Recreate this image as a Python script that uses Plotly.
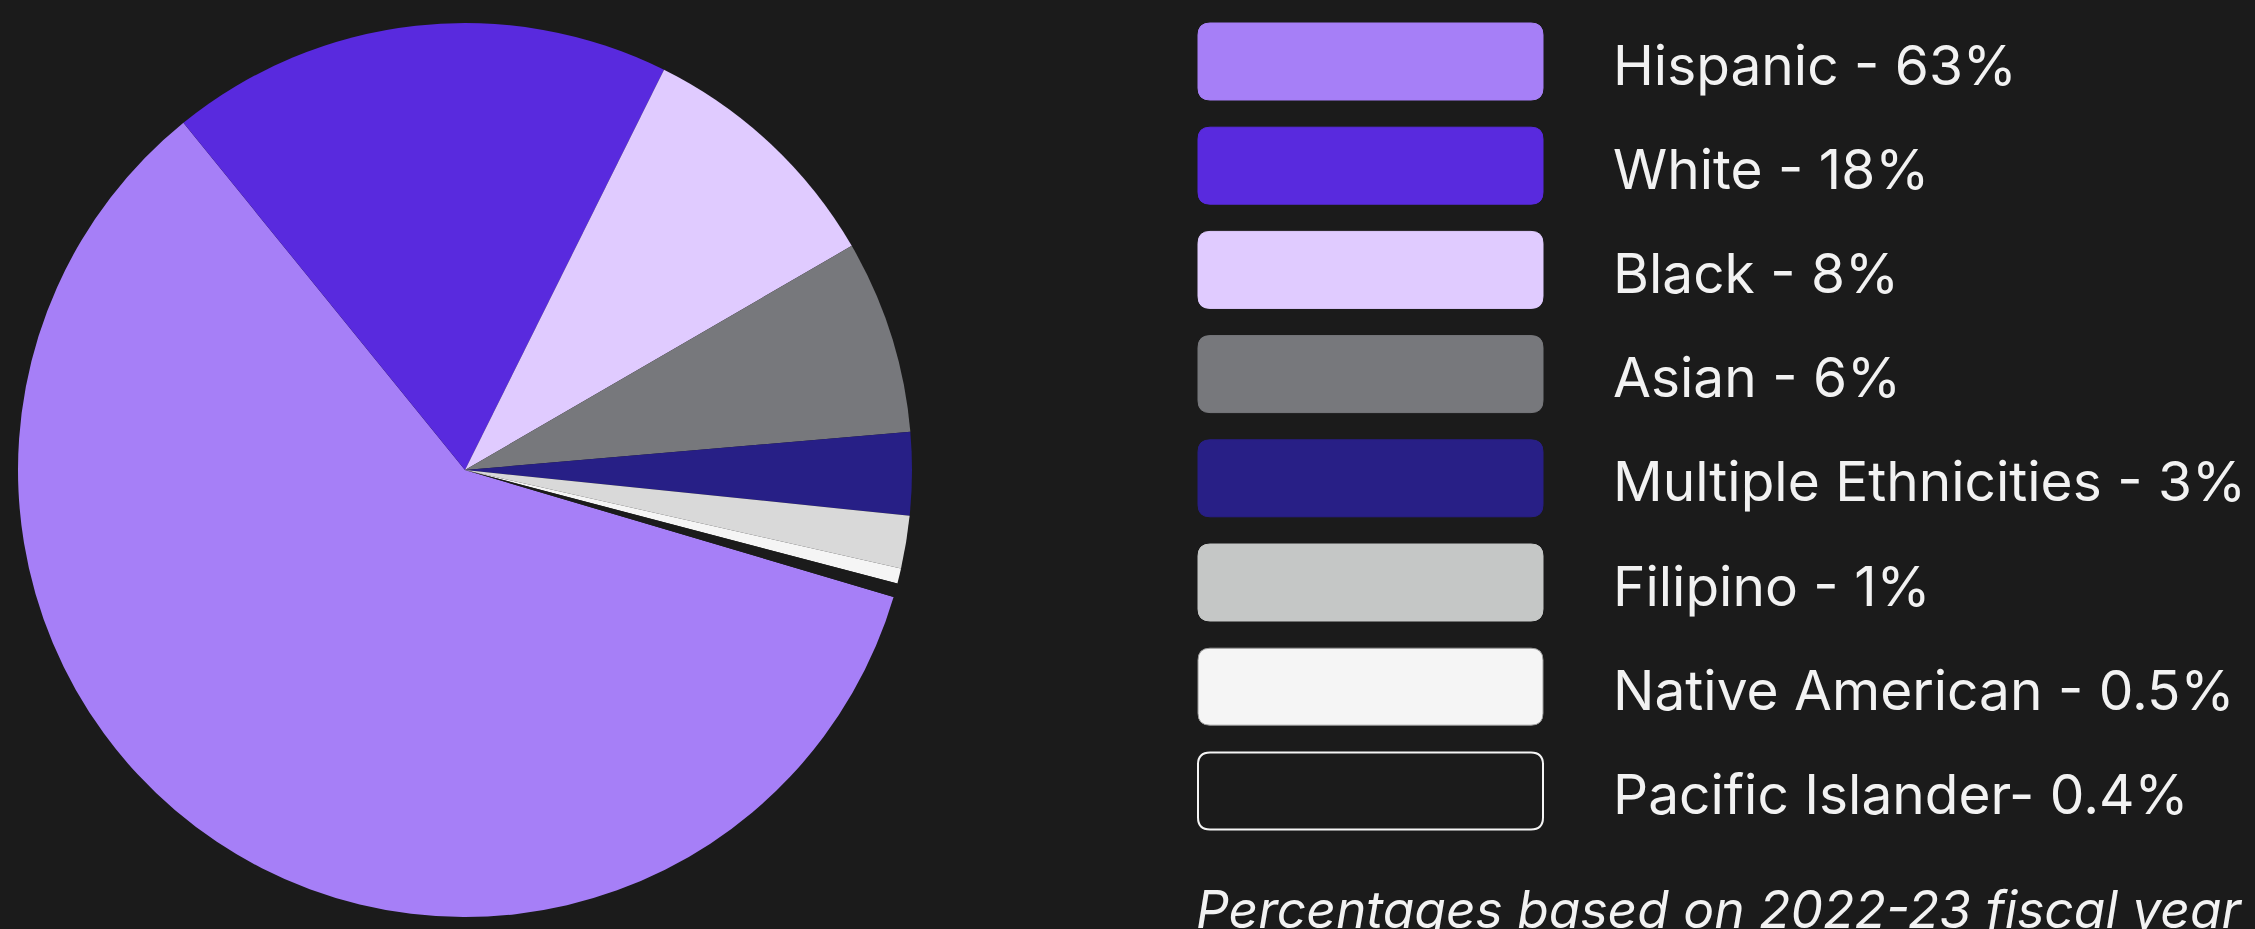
import plotly.graph_objects as go

# ---- data ----
groups = ["Hispanic", "White", "Black", "Asian", "Multiple Ethnicities",
          "Filipino", "Native American", "Pacific Islander"]
# slice sizes as drawn in the pie (percent of circle)
slice_values = [59.6, 18.2, 9.3, 7.0, 3.0, 1.9, 0.55, 0.5]
legend_labels = ["Hispanic - 63%", "White - 18%", "Black - 8%", "Asian - 6%",
                 "Multiple Ethnicities - 3%", "Filipino - 1%",
                 "Native American - 0.5%", "Pacific Islander- 0.4%"]
pie_colors = ["#a67ff7", "#592ade", "#e0cbff", "#77787c", "#271f86",
              "#d9d9d9", "#f5f5f5", "#1b1b1b"]
swatch_colors = ["#a67ff7", "#592ade", "#e0cbff", "#77787c", "#281f86",
                 "#c5c7c6", "#f5f5f5", "#1b1b1b"]
swatch_lines = ["#a67ff7", "#592ade", "#e0cbff", "#77787c", "#281f86",
                "#c5c7c6", "#9a9a9a", "#f5f5f5"]
footnote = "Percentages based on 2022-23 fiscal year"

W, H = 2255, 929
BG = "#1b1b1b"
TXT = "#f2f2f2"
FONT = "Inter"

fig = go.Figure()
fig.add_trace(go.Pie(
    labels=groups, values=slice_values, sort=False, direction="clockwise",
    rotation=106.5, marker=dict(colors=pie_colors, line=dict(width=0)),
    textinfo="none", hoverinfo="label+percent", showlegend=False,
    domain=dict(x=[18 / W, 912 / W], y=[12 / H, 906 / H]),
))


def rrect(x0, y0, x1, y1, r):
    return (f"M {x0+r},{y0} L {x1-r},{y0} Q {x1},{y0} {x1},{y0+r} "
            f"L {x1},{y1-r} Q {x1},{y1} {x1-r},{y1} L {x0+r},{y1} "
            f"Q {x0},{y1} {x0},{y1-r} L {x0},{y0+r} Q {x0},{y0} {x0+r},{y0} Z")


shapes = []
annotations = []
top0, step, sh = 23, 104.2, 77
for i, lab in enumerate(legend_labels):
    y0 = top0 + i * step
    y1 = y0 + sh
    lw = 2 if i == len(legend_labels) - 1 else 1
    shapes.append(dict(type="path", xref="x", yref="y",
                       path=rrect(1198, y0, 1543, y1, 12),
                       fillcolor=swatch_colors[i],
                       line=dict(color=swatch_lines[i], width=lw)))
    annotations.append(dict(x=1611, y=(y0 + y1) / 2 + 3, xref="x", yref="y",
                            text=lab, showarrow=False, xanchor="left",
                            yanchor="middle",
                            font=dict(family=FONT, size=55, color=TXT)))

annotations.append(dict(x=1194, y=876, xref="x", yref="y",
                        text=f"<i>{footnote}</i>", showarrow=False,
                        xanchor="left", yanchor="top",
                        font=dict(family=FONT, size=51.5, color=TXT)))

fig.update_layout(
    width=W, height=H, margin=dict(l=0, r=0, t=0, b=0),
    paper_bgcolor=BG, plot_bgcolor=BG,
    xaxis=dict(range=[0, W], visible=False, domain=[0, 1], fixedrange=True),
    yaxis=dict(range=[H, 0], visible=False, domain=[0, 1], fixedrange=True),
    shapes=shapes, annotations=annotations, showlegend=False,
)

fig.write_html(
    "out.html",
    config={"displayModeBar": False},
    post_script="document.body.style.margin='0';"
                "document.body.style.overflow='hidden';"
                "document.body.style.background='#1b1b1b';",
)
